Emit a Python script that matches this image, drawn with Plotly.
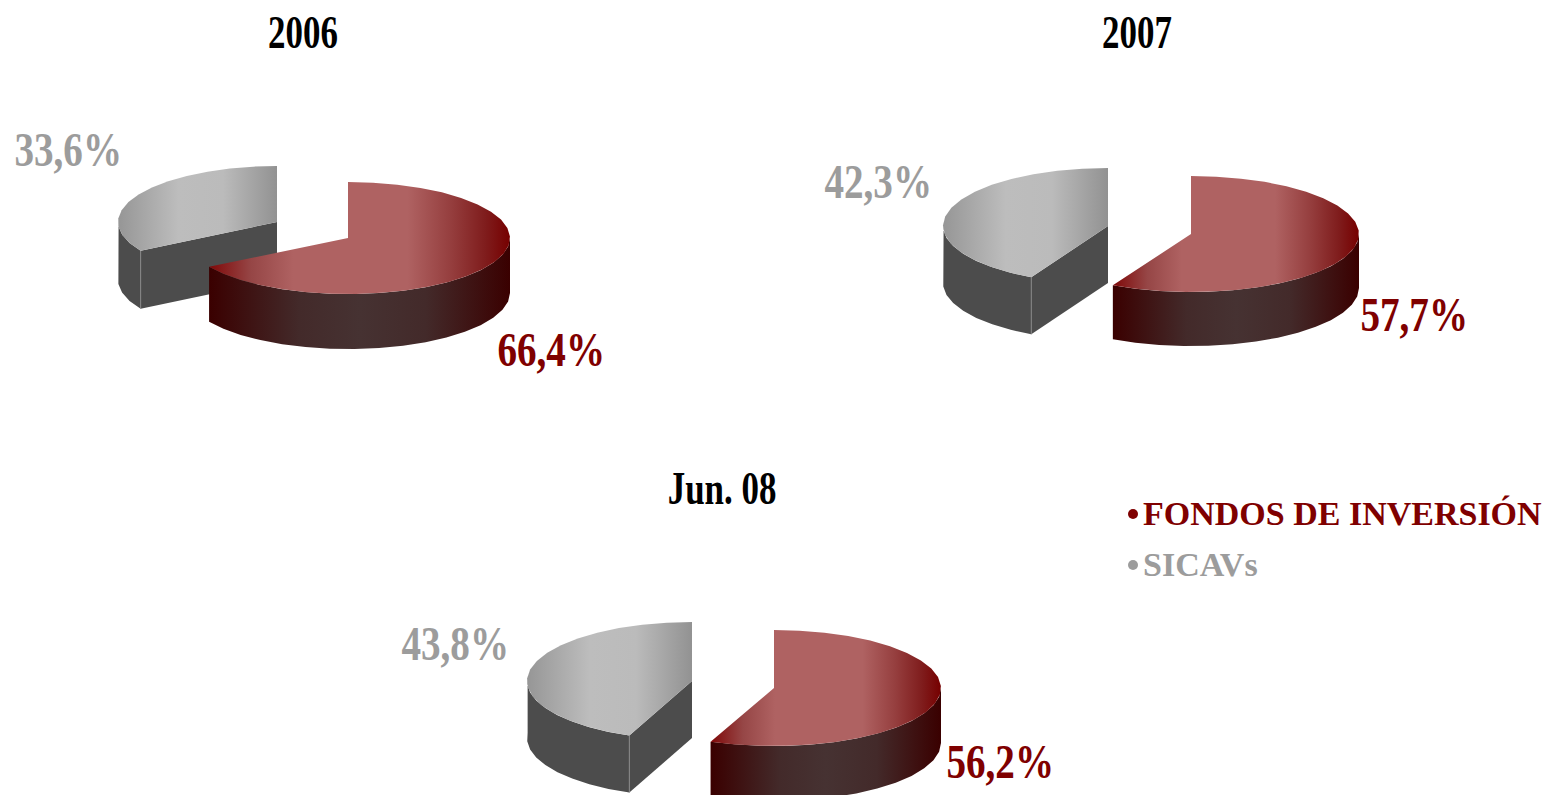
import math
import plotly.graph_objects as go

# ---- data ----
periods = ["2006", "2007", "Jun. 08"]
fondos = [66.4, 57.7, 56.2]
sicavs = [33.6, 42.3, 43.8]
categories = ["FONDOS DE INVERSIÓN", "SICAVs"]

# ---- layout of each pie in page pixels: centre x, centre y, radius x, radius y, depth ----
red_geo = [(348, 238, 162, 56, 55), (1191, 234, 168, 58, 54), (774, 688, 167, 58, 55)]
grey_geo = [(277, 222, 159, 56, 58), (1108, 226, 165, 58, 57), (692, 681, 165, 59, 57)]
title_pos = [(303, 33), (1137, 33), (722, 489)]
red_label_pos = [(551, 350), (1414, 315), (1000, 762)]
grey_label_pos = [(68, 150), (878, 182), (455, 644)]
legend_pos = [(1143, 513), (1143, 564)]

RED = "#7f0000"
GREY = "#9c9c9c"
RED_TOP = [[0, "#7f0808"], [0.14, "#964646"], [0.28, "#af6262"], [0.66, "#af6262"],
           [0.8, "#963f3f"], [0.92, "#7f1c1c"], [1, "#760000"]]
RED_WALL = [[0, "#3a0000"], [0.3, "#432a2a"], [0.5, "#463232"], [0.72, "#432a2a"], [1, "#3a0000"]]
GREY_TOP = [[0, "#969696"], [0.38, "#bdbdbd"], [0.66, "#bbbbbb"], [1, "#929292"]]
STEP = 9.0  # polygon facet, degrees


def rim(geo, a0, a1):
    cx, cy, rx, ry, _ = geo
    n = max(2, int(abs(a1 - a0) / STEP) + 1)
    pts = []
    for i in range(n + 1):
        a = math.radians(a0 + (a1 - a0) * i / n)
        pts.append((cx + rx * math.sin(a), cy - ry * math.cos(a)))
    return pts


def poly(fig, pts, scale=None, color=None, line=None):
    xs = [p[0] for p in pts] + [pts[0][0]]
    ys = [p[1] for p in pts] + [pts[0][1]]
    kw = dict(x=xs, y=ys, mode="lines", fill="toself", hoverinfo="skip", showlegend=False)
    if scale:
        kw["fillgradient"] = dict(type="horizontal", colorscale=scale)
        kw["fillcolor"] = "rgba(0,0,0,0)"
    else:
        kw["fillcolor"] = color
    kw["line"] = dict(width=0.5 if line else 0, color=line or "rgba(0,0,0,0)")
    fig.add_trace(go.Scatter(**kw))


fig = go.Figure()

for i, period in enumerate(periods):
    split = 3.6 * fondos[i]
    start_grey = 360 - 3.6 * sicavs[i]
    g = grey_geo[i]
    r = red_geo[i]
    d = g[4]

    # grey wedge: outer wall, cut wall, top
    wall = rim(g, start_grey, 275)
    poly(fig, wall + [(x, y + d) for x, y in reversed(wall)], color="#4c4c4c")
    end = wall[0]
    apex = (g[0], g[1])
    poly(fig, [apex, end, (end[0], end[1] + d), (apex[0], apex[1] + d)], color="#4c4c4c")
    poly(fig, [end, (end[0], end[1] + d)], color="rgba(0,0,0,0)", line="#8c8c8c")
    poly(fig, [apex] + rim(g, start_grey, 360), scale=GREY_TOP)

    # red wedge: outer wall, top
    d = r[4]
    wall = rim(r, 90, split)
    poly(fig, wall + [(x, y + d) for x, y in reversed(wall)], scale=RED_WALL)
    poly(fig, [(r[0], r[1])] + rim(r, 0, split), scale=RED_TOP)

annotations = []


def label(text, pos, size, color):
    annotations.append(dict(x=pos[0], y=pos[1], text=text, showarrow=False, xref="x", yref="y",
                            xanchor="center", yanchor="middle",
                            font=dict(family="Liberation Serif", size=size, color=color)))


for i, period in enumerate(periods):
    label(f"<b>{period}</b>", title_pos[i], 36, "#000000")
    label("<b>" + f"{fondos[i]:.1f}".replace(".", ",") + "%</b>", red_label_pos[i], 38, RED)
    label("<b>" + f"{sicavs[i]:.1f}".replace(".", ",") + "%</b>", grey_label_pos[i], 38, GREY)

for name, pos, color in zip(categories, legend_pos, [RED, GREY]):
    annotations.append(dict(x=pos[0] - 2, y=pos[1], text=f"<b>{name}</b>", showarrow=False, xref="x", yref="y",
                            xanchor="left", yanchor="middle",
                            font=dict(family="Liberation Serif", size=34, color=color)))
    fig.add_trace(go.Scatter(x=[pos[0] - 10], y=[pos[1] + 1], mode="markers", hoverinfo="skip", showlegend=False,
                             marker=dict(size=10, color=color, line=dict(width=0))))

fig.update_layout(
    width=1545, height=795, margin=dict(l=0, r=0, t=0, b=0),
    paper_bgcolor="white", plot_bgcolor="white", showlegend=False,
    annotations=annotations,
    xaxis=dict(range=[0, 1545], visible=False, fixedrange=True),
    yaxis=dict(range=[795, 0], visible=False, fixedrange=True),
)

# The reference uses a tall condensed serif; stretch the numeric/title texts to the same proportions.
stretch = """
document.body.style.margin='0';
function stretchText(){
  document.querySelectorAll('.annotation-text').forEach(function(t){
    var s=t.textContent;
    if(!/[0-9]/.test(s)) return;
    var b=t.getBBox(), cx=b.x+b.width/2, cy=b.y+b.height/2;
    var sx=s.indexOf('%')>=0?1.03:0.97, sy=1.28;
    t.setAttribute('transform','translate('+cx+' '+cy+') scale('+sx+' '+sy+') translate('+(-cx)+' '+(-cy)+')');
  });
}
stretchText(); setTimeout(stretchText,50); setTimeout(stretchText,300);
"""
fig.write_html("out.html", config={"displayModeBar": False}, post_script=stretch)
